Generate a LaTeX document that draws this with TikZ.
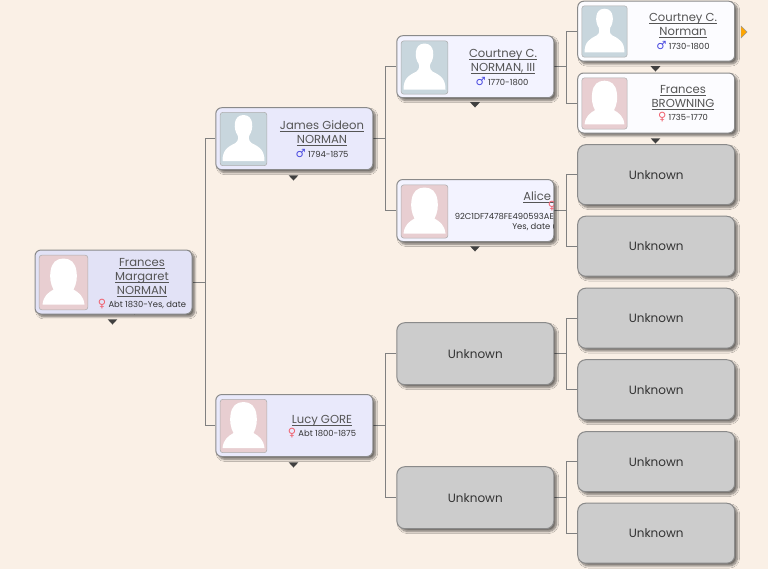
\documentclass[tikz,border=0pt]{standalone}
\usepackage{fontspec}
\setmainfont{Poppins}
\newfontfamily\symfont{DejaVu Sans}
\usepackage{xcolor}
\usepackage{tikz}
\usetikzlibrary{shapes.geometric, arrows.meta, positioning, backgrounds, shadows.blur}
\definecolor{pageBg}{HTML}{FAF0E6}
\definecolor{rootBg}{HTML}{E2E2F6}
\definecolor{midBg}{HTML}{E9E9FB}
\definecolor{thirdBg}{HTML}{F3F3FF}
\definecolor{leafBg}{HTML}{FCFCFF}
\definecolor{unkBg}{HTML}{CCCCCC}
\definecolor{edgeGrey}{HTML}{8A8A8A}
\definecolor{maleBg}{HTML}{C8D6DD}
\definecolor{femaleBg}{HTML}{E8CED1}
\definecolor{nameInk}{HTML}{555555}
\definecolor{infoInk}{HTML}{333333}
\definecolor{maleInk}{HTML}{4A4AE0}
\definecolor{femaleInk}{HTML}{F0606E}
\newcommand{\femsign}{{\symfont\fontsize{8.5}{8}\selectfont\color{femaleInk}♀}}
\newcommand{\malesign}{{\symfont\fontsize{8.5}{8}\selectfont\color{maleInk}♂}}
\newcommand{\nameline}[1]{\vphantom{X}\underline{\smash{#1}}}
\begin{document}
\begin{tikzpicture}[x=0.75pt,y=-0.75pt,
 boxshadow/.style={blur shadow={shadow xshift=2pt,shadow yshift=-2pt,shadow blur steps=8,shadow blur radius=1.6pt,shadow opacity=55}},
 person/.style={rectangle,rounded corners=4.5pt,draw=edgeGrey,line width=0.75pt,boxshadow,
 minimum width=117.75pt,minimum height=46.5pt,inner sep=0pt},
 leaf/.style={person,fill=leafBg,minimum height=45pt},
 unkbox/.style={person,rounded corners=6pt,fill=unkBg,font=\fontsize{9}{10}\selectfont,text=infoInk},
 photo/.style={rectangle,rounded corners=2pt,draw=edgeGrey!70,line width=0.4pt,minimum width=35pt,minimum height=40pt,inner sep=0pt},
 nametext/.style={font=\fontsize{8.7}{10.5}\selectfont,text=nameInk,align=center,inner sep=0pt},
 infotext/.style={font=\fontsize{6.3}{8}\selectfont,text=infoInk,align=center,inner sep=0pt},
 moremark/.style={regular polygon,regular polygon sides=3,shape border rotate=180,fill=black!75,minimum size=8.5pt,yscale=0.62,inner sep=0pt},
 link/.style={draw=black!50,line width=0.6pt},
 pics/malesil/.style={code={\fill[white] (-21,22) .. controls (-21,11) and (-16,8) .. (-8,4) .. controls (-5,2) and (-5,-2) .. (-6,-4)
   .. controls (-10,-9) and (-11,-24) .. (0,-24) .. controls (11,-24) and (10,-9) .. (6,-4)
   .. controls (5,-2) and (5,2) .. (8,4) .. controls (16,8) and (21,11) .. (21,22) -- cycle;}},
 pics/femalesil/.style={code={\fill[white] (-21,22) .. controls (-20,13) and (-15,10) .. (-10,7) .. controls (-13,2) and (-14,-6) .. (-13,-11)
   .. controls (-12,-20) and (-7,-24) .. (0,-24) .. controls (7,-24) and (12,-20) .. (13,-11) .. controls (14,-6) and (13,2) .. (10,7)
   .. controls (15,10) and (20,13) .. (21,22) -- cycle;}}]
% boxes
\node[person,fill=rootBg,minimum height=48pt] (root) at (113.5,282) {};
\node[person,fill=midBg] (james) at (294.3,138.7) {};
\node[person,fill=midBg] (lucy) at (294.3,425.5) {};
\node[person,fill=thirdBg] (courtneyIII) at (475.3,66.7) {};
\node[person,fill=thirdBg] (alice) at (475.3,210.5) {};
\node[unkbox] (unkA) at (475.3,353.7) {Unknown};
\node[unkbox] (unkB) at (475.3,497.7) {Unknown};
\node[leaf] (courtney) at (656.2,31.2) {};
\node[leaf] (frances) at (656.2,103) {};
\node[unkbox,minimum height=45pt] (unkC) at (656.2,174.7) {Unknown};
\node[unkbox,minimum height=45pt] (unkD) at (656.2,246.2) {Unknown};
\node[unkbox,minimum height=45pt] (unkE) at (656.2,318.2) {Unknown};
\node[unkbox,minimum height=45pt] (unkF) at (656.2,389.7) {Unknown};
\node[unkbox,minimum height=45pt] (unkG) at (656.2,461.7) {Unknown};
\node[unkbox,minimum height=45pt] (unkH) at (656.2,533.2) {Unknown};
% photos
\node[photo,fill=femaleBg,minimum width=36.5pt,minimum height=41pt] (rootPic) at (63.5,282.5) {};
\pic at (rootPic.center) {femalesil};
\node[photo,fill=maleBg] (jamesPic) at (243.5,139) {};
\pic at (jamesPic.center) {malesil};
\node[photo,fill=femaleBg] (lucyPic) at (243.5,426) {};
\pic at (lucyPic.center) {femalesil};
\node[photo,fill=maleBg] (courtneyIIIPic) at (424.5,67.5) {};
\pic at (courtneyIIIPic.center) {malesil};
\node[photo,fill=femaleBg] (alicePic) at (424.5,211.5) {};
\pic at (alicePic.center) {femalesil};
\node[photo,fill=maleBg,minimum width=34pt,minimum height=38.5pt] (courtneyPic) at (604.5,31.5) {};
\pic[scale=0.95] at (courtneyPic.center) {malesil};
\node[photo,fill=femaleBg,minimum width=34pt,minimum height=38.5pt] (francesPic) at (604.5,103.5) {};
\pic[scale=0.95] at (francesPic.center) {femalesil};
% names and dates
\begin{scope}
\clip[rounded corners=4.5pt] (root.south west) rectangle (root.north east);
\node[nametext] (rootName) at (142,278) {\nameline{Frances}\\\nameline{Margaret}\\\nameline{NORMAN}};
\node[infotext] (rootInfo) at (142,304.5) {\femsign\ Abt 1830-Yes, date};
\node[infotext] (rootMore) at (142,318.5) {unknown};
\end{scope}
\node[nametext] (jamesName) at (322,134) {\nameline{James Gideon}\\\nameline{NORMAN}};
\node[infotext] (jamesInfo) at (322,153.5) {\malesign\ 1794-1875};
\node[nametext] (lucyName) at (322,421) {\nameline{Lucy GORE}};
\node[infotext] (lucyInfo) at (322,433.5) {\femsign\ Abt 1800-1875};
\node[nametext] (courtneyIIIName) at (503,62) {\nameline{Courtney C.}\\\nameline{NORMAN, III}};
\node[infotext] (courtneyIIIInfo) at (502,81.5) {\malesign\ 1770-1800};
\begin{scope}
\clip (alice.south west) rectangle ([xshift=-0.6pt]alice.north east);
\node[nametext,anchor=west] (aliceName) at (523,198) {\nameline{Alice\ }};
\node[infotext,anchor=west] (aliceSign) at (547.5,206) {\femsign};
\node[infotext,anchor=west] (aliceId) at (454.5,216.5) {92C1DF7478FE490593AE};
\node[infotext,anchor=west] (aliceInfo) at (512,227) {Yes, date unknown};
\end{scope}
\node[nametext] (courtneyName) at (683,26) {\nameline{Courtney C.}\\\nameline{Norman}};
\node[infotext] (courtneyInfo) at (683,45.5) {\malesign\ 1730-1800};
\node[nametext] (francesName) at (683,98) {\nameline{Frances}\\\nameline{BROWNING}};
\node[infotext] (francesInfo) at (683,117.5) {\femsign\ 1735-1770};
% small markers
\node[moremark] (rootMark) at (112.5,321) {};
\node[moremark] (jamesMark) at (293.5,177) {};
\node[moremark] (lucyMark) at (293.5,464) {};
\node[moremark] (courtneyIIIMark) at (475,104) {};
\node[moremark] (aliceMark) at (475,248) {};
\node[moremark] (courtneyMark) at (655.5,68) {};
\node[moremark] (francesMark) at (655.5,140) {};
\fill[fill=orange!70!yellow,draw=black!40,line width=0.3pt] (741,26) -- (747,32) -- (741,38) -- cycle;
% page and connectors
\begin{scope}[on background layer]
\fill[pageBg] (0,0) rectangle (768,569);
\draw[link] (root.east) -- ++(12.5,0) |- (james.west);
\draw[link] (root.east) -- ++(12.5,0) |- (lucy.west);
\draw[link] (james.east) -- ++(12.5,0) |- (courtneyIII.west);
\draw[link] (james.east) -- ++(12.5,0) |- (alice.west);
\draw[link] (lucy.east) -- ++(12.5,0) |- (unkA.west);
\draw[link] (lucy.east) -- ++(12.5,0) |- (unkB.west);
\draw[link] (courtneyIII.east) -- ++(12.2,0) |- (courtney.west);
\draw[link] (courtneyIII.east) -- ++(12.2,0) |- (frances.west);
\draw[link] (alice.east) -- ++(12.2,0) |- (unkC.west);
\draw[link] (alice.east) -- ++(12.2,0) |- (unkD.west);
\draw[link] (unkA.east) -- ++(12.2,0) |- (unkE.west);
\draw[link] (unkA.east) -- ++(12.2,0) |- (unkF.west);
\draw[link] (unkB.east) -- ++(12.2,0) |- (unkG.west);
\draw[link] (unkB.east) -- ++(12.2,0) |- (unkH.west);
\end{scope}
\useasboundingbox (0,0) rectangle (768,569);
\end{tikzpicture}
\end{document}
